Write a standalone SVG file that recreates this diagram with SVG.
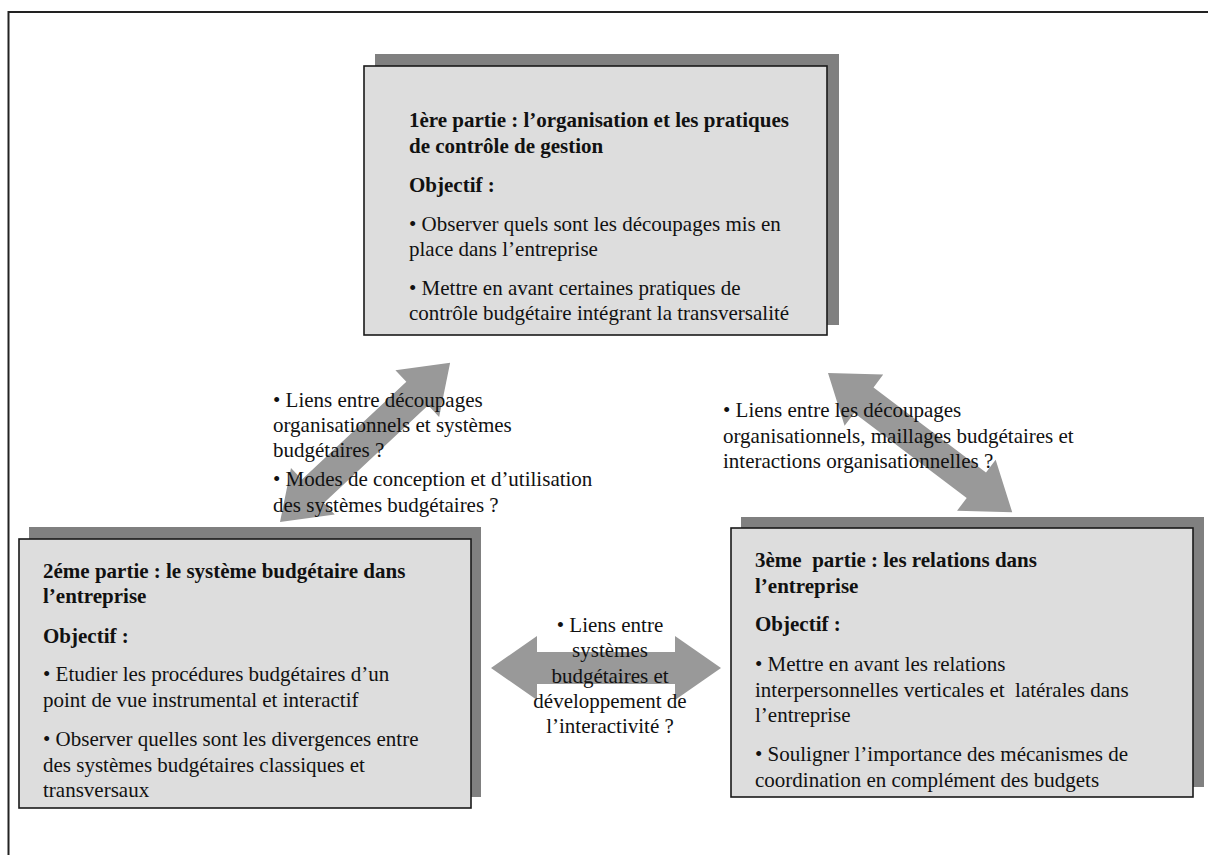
<svg xmlns="http://www.w3.org/2000/svg" width="1208" height="855" viewBox="0 0 1208 855">
<style>
text{font-family:"Liberation Serif","Times New Roman",serif;font-size:21px;fill:#111}
.b{font-weight:bold}
.m{text-anchor:middle}
.shadow{fill:#808080}
.box{fill:#dddddd;stroke:#1a1a1a;stroke-width:1.6}
.arr{fill:#999999}
</style>
<defs>
<polygon id="dbl" points="0,0 45,-32 45,-16 -45,-16 -45,-32 0,0"/>
</defs>
<rect x="0" y="0" width="1208" height="855" fill="#ffffff"/>
<rect x="8.5" y="12" width="1220" height="860" fill="none" stroke="#222" stroke-width="2"/>

<g id="connectors">
  <polygon class="arr" transform="translate(280,522) rotate(-43.1)" points="0,0 45,-32 45,-16 188,-16 188,-32 233,0 188,32 188,16 45,16 45,32"/>
  <polygon class="arr" transform="translate(828,373) rotate(37.1)" points="0,0 45,-32 45,-16 186,-16 186,-32 231,0 186,32 186,16 45,16 45,32"/>
  <polygon class="arr" transform="translate(491,668)" points="0,0 46,-32 46,-16 184,-16 184,-32 230,0 184,32 184,16 46,16 46,32"/>
</g>

<g id="node1">
  <rect class="shadow" x="375" y="54" width="464" height="271"/>
  <rect class="box" x="364" y="66" width="463" height="269"/>
  <text class="b" x="409" y="127">1ère partie : l’organisation et les pratiques</text>
  <text class="b" x="409" y="153">de contrôle de gestion</text>
  <text class="b" x="409" y="192">Objectif :</text>
  <text x="409" y="231">• Observer quels sont les découpages mis en</text>
  <text x="409" y="256">place dans l’entreprise</text>
  <text x="409" y="295">• Mettre en avant certaines pratiques de</text>
  <text x="409" y="320">contrôle budgétaire intégrant la transversalité</text>
</g>

<g id="node2">
  <rect class="shadow" x="29" y="527" width="452" height="270"/>
  <rect class="box" x="19" y="539" width="452" height="269"/>
  <text class="b" x="43" y="578">2éme partie : le système budgétaire dans</text>
  <text class="b" x="43" y="603">l’entreprise</text>
  <text class="b" x="43" y="643">Objectif :</text>
  <text x="43" y="681">• Etudier les procédures budgétaires d’un</text>
  <text x="43" y="707">point de vue instrumental et interactif</text>
  <text x="43" y="746">• Observer quelles sont les divergences entre</text>
  <text x="43" y="772">des systèmes budgétaires classiques et</text>
  <text x="43" y="797">transversaux</text>
</g>

<g id="node3">
  <rect class="shadow" x="741" y="517" width="463" height="270"/>
  <rect class="box" x="731" y="528" width="462" height="269"/>
  <text class="b" x="755" y="567">3ème&#160; partie : les relations dans</text>
  <text class="b" x="755" y="593">l’entreprise</text>
  <text class="b" x="755" y="631">Objectif :</text>
  <text x="755" y="671">• Mettre en avant les relations</text>
  <text x="755" y="697">interpersonnelles verticales et&#160; latérales dans</text>
  <text x="755" y="722">l’entreprise</text>
  <text x="755" y="761">• Souligner l’importance des mécanismes de</text>
  <text x="755" y="787">coordination en complément des budgets</text>
</g>

<g id="label1">
  <text x="273" y="407">• Liens entre découpages</text>
  <text x="273" y="432">organisationnels et systèmes</text>
  <text x="273" y="457">budgétaires ?</text>
  <text x="273" y="486">• Modes de conception et d’utilisation</text>
  <text x="273" y="512">des systèmes budgétaires ?</text>
</g>

<g id="label2">
  <text x="723" y="417">• Liens entre les découpages</text>
  <text x="723" y="443">organisationnels, maillages budgétaires et</text>
  <text x="723" y="468">interactions organisationnelles ?</text>
</g>

<g id="label3">
  <text class="m" x="610" y="632">• Liens entre</text>
  <text class="m" x="610" y="657">systèmes</text>
  <text class="m" x="610" y="683">budgétaires et</text>
  <text class="m" x="610" y="708">développement de</text>
  <text class="m" x="610" y="733">l’interactivité ?</text>
</g>
</svg>
